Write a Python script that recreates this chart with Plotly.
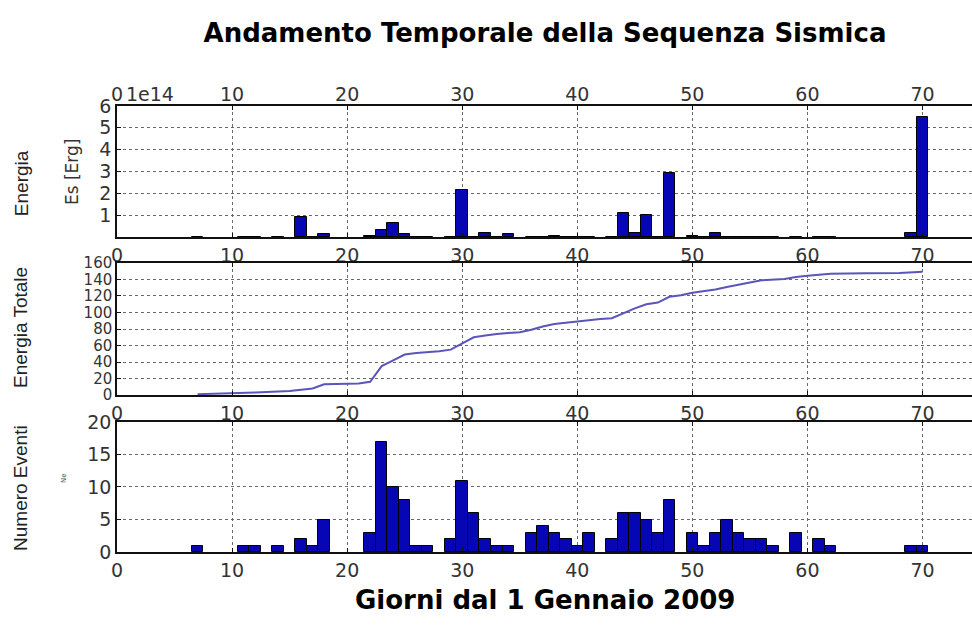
import plotly.graph_objects as go

# ---------------- data ----------------
x_ticks = [0, 10, 20, 30, 40, 50, 60, 70]

# daily energy (units of 1e14 erg)
energy_days = [7, 11, 12, 14, 16, 17, 18, 22, 23, 24, 25, 26, 27, 29, 30, 31, 32, 33, 34,
               36, 37, 38, 39, 40, 41, 43, 44, 45, 46, 47, 48, 50, 51, 52, 53, 54, 55,
               56, 57, 59, 61, 62, 69, 70]
energy_vals = [0.02, 0.01, 0.02, 0.02, 0.90, 0.01, 0.13, 0.06, 0.30, 0.62, 0.13, 0.01, 0.01,
               0.02, 2.14, 0.02, 0.19, 0.01, 0.13, 0.02, 0.02, 0.04, 0.02, 0.02, 0.02,
               0.02, 1.09, 0.19, 1.02, 0.01, 2.92, 0.05, 0.01, 0.19, 0.02, 0.02, 0.02,
               0.02, 0.02, 0.02, 0.02, 0.01, 0.19, 5.50]
energy_ticks = [1, 2, 3, 4, 5, 6]

# cumulative energy
cum_days = [7, 10, 12, 15, 17, 18, 21, 22, 23, 24, 25, 26, 28, 29, 30, 31, 32, 33, 34, 35,
            36, 37, 38, 40, 41, 42, 43, 44, 45, 46, 47, 48, 49, 50, 52, 53, 55, 56, 58,
            59, 60, 62, 65, 68, 70]
cum_vals = [1, 2, 3, 5, 8, 13, 14, 16, 35, 42, 49, 51, 53, 55, 63, 70, 72, 74, 75, 76,
            79, 83, 86, 89, 91, 92, 93, 99, 105, 110, 112, 119, 121, 124, 128, 131, 136,
            139, 140.5, 143, 144.5, 147, 147.5, 148, 149.5]
cum_ticks = [0, 20, 40, 60, 80, 100, 120, 140, 160]

# number of events per day
count_days = [7, 11, 12, 14, 16, 17, 18, 22, 23, 24, 25, 26, 27, 29, 30, 31, 32, 33, 34,
              36, 37, 38, 39, 40, 41, 43, 44, 45, 46, 47, 48, 50, 51, 52, 53, 54, 55,
              56, 57, 59, 61, 62, 69, 70]
count_vals = [1, 1, 1, 1, 2, 1, 5, 3, 17, 10, 8, 1, 1, 2, 11, 6, 2, 1, 1, 3, 4, 3, 2, 1,
              3, 2, 6, 6, 5, 3, 8, 3, 1, 3, 5, 3, 2, 2, 1, 3, 2, 1, 1, 1]
count_ticks = [0, 5, 10, 15, 20]

# ---------------- style ----------------
BAR = "#0606b4"
LINE = "#5a55b8"
GRID = "#6a6a6a"
TICKFONT = dict(family="DejaVu Sans", size=19, color="#333333")
TICKFONT_MID = dict(family="DejaVu Sans", size=15, color="#333333")
XRANGE = [0, 74.3]

fig = go.Figure()
fig.add_bar(x=energy_days, y=energy_vals, width=1,
            marker=dict(color=BAR, line=dict(color="#000000", width=1)),
            xaxis="x", yaxis="y", showlegend=False)
# transparent copy so the top axis of the first panel is drawn
fig.add_bar(x=energy_days, y=energy_vals, width=1, opacity=0,
            marker=dict(color=BAR), hoverinfo="skip",
            xaxis="x4", yaxis="y", showlegend=False)
fig.add_scatter(x=cum_days, y=cum_vals, mode="lines",
                line=dict(color=LINE, width=2),
                xaxis="x2", yaxis="y2", showlegend=False)
fig.add_bar(x=count_days, y=count_vals, width=1,
            marker=dict(color=BAR, line=dict(color="#000000", width=1)),
            xaxis="x3", yaxis="y3", showlegend=False)


def xbottom(anchor):
    return dict(domain=[0, 1], anchor=anchor, range=XRANGE, tickvals=x_ticks,
                side="bottom", showline=True, mirror="ticks",
                linecolor="#111111", linewidth=1.5,
                showgrid=True, gridcolor=GRID, griddash="dot", gridwidth=1.3,
                ticks="inside", ticklen=4, tickcolor="#111111", zeroline=False,
                tickfont=TICKFONT)


def yax(domain, rng, ticks, anchor, font):
    return dict(domain=domain, anchor=anchor, range=rng, tickvals=ticks,
                showline=True, linecolor="#111111", linewidth=1.5, mirror=False,
                showgrid=True, gridcolor=GRID, griddash="dot", gridwidth=1.3,
                ticks="inside", ticklen=4, tickcolor="#111111", zeroline=False,
                tickfont=font)


fig.update_layout(
    width=972, height=630,
    margin=dict(l=117, r=0, t=106, b=78),
    paper_bgcolor="white", plot_bgcolor="white",
    bargap=0, barmode="overlay",
    title=dict(text="<b>Andamento Temporale della Sequenza Sismica</b>",
               x=0.5006, xref="paper", y=1 - 33 / 630, yanchor="middle",
               font=dict(family="DejaVu Sans", size=26, color="#000000")),
    xaxis=xbottom("y"),
    xaxis2=xbottom("y2"),
    xaxis3=xbottom("y3"),
    xaxis4=dict(overlaying="x", anchor="y", range=XRANGE, tickvals=x_ticks,
                side="top", showline=False, showgrid=False, ticks="",
                zeroline=False, tickfont=TICKFONT),
    yaxis=yax([0.7063, 1.0], [0, 6], energy_ticks, "x", TICKFONT),
    yaxis2=yax([0.352, 0.648], [0, 160], cum_ticks, "x2", TICKFONT_MID),
    yaxis3=yax([0.0, 0.2915], [0, 20], count_ticks, "x3", TICKFONT),
)

side_font = dict(family="Liberation Sans Narrow, Liberation Sans", size=19, color="#222222")
ann = [
    dict(text="Energia", x=-0.1123, y=0.827, textangle=-90, font=side_font),
    dict(text="Energia Totale", x=-0.1123, y=0.5045, textangle=-90, font=side_font),
    dict(text="Numero Eventi", x=-0.1123, y=0.1435, textangle=-90, font=side_font),
    dict(text="Es [Erg]", x=-0.0526, y=0.852, textangle=-90,
         font=dict(family="DejaVu Sans", size=17, color="#333333")),
    dict(text="Ne", x=-0.0614, y=0.165, textangle=-90,
         font=dict(family="DejaVu Sans", size=7, color="#555555")),
    dict(text="<b>Giorni dal 1 Gennaio 2009</b>", x=0.5006, y=-0.1076,
         font=dict(family="DejaVu Sans", size=26, color="#000000")),
]
for a in ann:
    fig.add_annotation(xref="paper", yref="paper", showarrow=False,
                       xanchor="center", yanchor="middle", **a)

fig.add_annotation(text="1e14", xref="paper", yref="paper", x=0, y=1,
                   xanchor="left", yanchor="middle", xshift=7, yshift=12,
                   showarrow=False, font=TICKFONT)

fig.write_html("out.html", config={"displayModeBar": False},
               post_script="document.body.style.margin='0';")
